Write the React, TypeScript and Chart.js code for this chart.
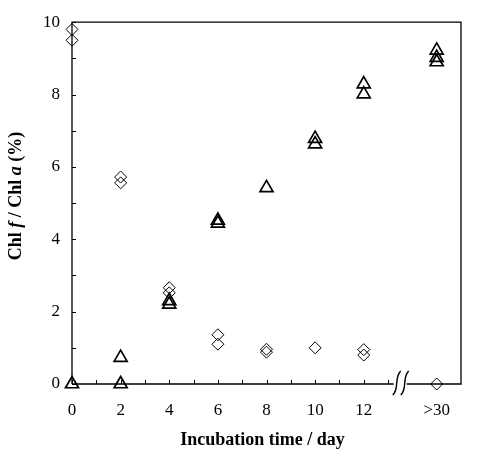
import React, { useEffect, useRef } from 'react';
import { Chart, registerables } from 'chart.js';
Chart.register(...registerables);

// Chl f / Chl a (%) versus incubation time (day); ">30" is drawn at position 15
const diamondTime = [0, 0, 2, 2, 4, 4, 6, 6, 8, 8, 10, 12, 12, 15];
const diamondRatio = [9.8, 9.5, 5.72, 5.56, 2.66, 2.52, 1.36, 1.1, 0.96, 0.88, 1.0, 0.95, 0.8, 0];
const triangleTime = [0, 2, 2, 4, 4, 6, 6, 8, 10, 10, 12, 12, 15, 15, 15];
const triangleRatio = [0, 0, 0.73, 2.3, 2.2, 4.52, 4.44, 5.42, 6.78, 6.63, 8.29, 8.01, 9.22, 9.02, 8.9];
const xMajorTicks = [0, 2, 4, 6, 8, 10, 12];
const xMinorTicks = [1, 3, 5, 7, 9, 11, 13];
const laterPos = 15;
const laterLabel = '>30';
const breakPos = 13.52;
const yTicks = [0, 1, 2, 3, 4, 5, 6, 7, 8, 9, 10];

const SERIF = "'Liberation Serif', 'Times New Roman', serif";

const framePlugin = {
  id: 'frame',
  beforeDatasetsDraw(chart: any) {
    const { ctx, chartArea, scales } = chart;
    const { left, right, top, bottom } = chartArea;
    const x = scales.x;
    const y = scales.y;
    ctx.save();
    ctx.strokeStyle = '#000';
    ctx.lineWidth = 1.3;
    const bx = x.getPixelForValue(breakPos);
    ctx.beginPath();
    ctx.moveTo(left, bottom);
    ctx.lineTo(left, top);
    ctx.lineTo(right, top);
    ctx.lineTo(right, bottom);
    ctx.lineTo(bx + 6, bottom);
    ctx.moveTo(left, bottom);
    ctx.lineTo(bx - 7, bottom);
    ctx.stroke();
    ctx.lineWidth = 1;
    ctx.beginPath();
    for (const v of yTicks) {
      const py = Math.round(y.getPixelForValue(v)) + 0.5;
      ctx.moveTo(left, py);
      ctx.lineTo(left + 4, py);
    }
    for (const v of [...xMajorTicks, ...xMinorTicks]) {
      const px = Math.round(x.getPixelForValue(v)) + 0.5;
      ctx.moveTo(px, bottom);
      ctx.lineTo(px, bottom - 4);
    }
    ctx.stroke();
    // axis break marks
    ctx.lineWidth = 1.4;
    for (const off of [-4, 4]) {
      const cx = bx + off;
      ctx.beginPath();
      ctx.moveTo(cx + 4, bottom - 13);
      ctx.bezierCurveTo(cx - 3, bottom - 6, cx + 3, bottom + 5, cx - 4, bottom + 11);
      ctx.stroke();
    }
    ctx.restore();
  },
  afterDraw(chart: any) {
    const { ctx, chartArea } = chart;
    ctx.save();
    ctx.fillStyle = '#000';
    ctx.font = `bold 18px ${SERIF}`;
    ctx.textAlign = 'center';
    ctx.textBaseline = 'alphabetic';
    ctx.fillText('Incubation time / day', (chartArea.left + chartArea.right) / 2 - 4, 445);

    const parts: [string, boolean][] = [
      ['Chl ', false],
      ['f', true],
      [' / Chl ', false],
      ['a', true],
      [' (%)', false],
    ];
    const fontFor = (it: boolean) => `${it ? 'italic ' : ''}bold 18px ${SERIF}`;
    let total = 0;
    for (const [t, it] of parts) {
      ctx.font = fontFor(it);
      total += ctx.measureText(t).width;
    }
    ctx.translate(21, 196);
    ctx.rotate(-Math.PI / 2);
    ctx.textAlign = 'left';
    let pos = -total / 2;
    for (const [t, it] of parts) {
      ctx.font = fontFor(it);
      ctx.fillText(t, pos, 0);
      pos += ctx.measureText(t).width;
    }
    ctx.restore();
  },
};

export default function App() {
  const ref = useRef<HTMLCanvasElement | null>(null);
  useEffect(() => {
    if (!ref.current) return;
    const chart = new Chart(ref.current, {
      type: 'scatter',
      data: {
        datasets: [
          {
            label: 'diamond',
            data: diamondTime.map((t, i) => ({ x: t, y: diamondRatio[i] })),
            pointStyle: 'rectRot',
            pointRadius: 6,
            borderColor: '#000',
            borderWidth: 1,
            backgroundColor: 'rgba(0,0,0,0)',
            clip: false,
          },
          {
            label: 'triangle',
            data: triangleTime.map((t, i) => ({ x: t, y: triangleRatio[i] })),
            pointStyle: 'triangle',
            pointRadius: 7.5,
            borderColor: '#000',
            borderWidth: 1.7,
            backgroundColor: 'rgba(0,0,0,0)',
            clip: false,
          },
        ],
      },
      options: {
        animation: false,
        responsive: false,
        events: [],
        layout: { padding: { left: 0, right: 24, top: 19, bottom: 0 } },
        plugins: { legend: { display: false }, tooltip: { enabled: false } },
        scales: {
          x: {
            type: 'linear',
            min: 0,
            max: 16,
            grid: { display: false, drawTicks: false },
            border: { display: false },
            afterBuildTicks: (s: any) => {
              s.ticks = [...xMajorTicks, ...xMinorTicks, laterPos]
                .sort((a, b) => a - b)
                .map((v) => ({ value: v }));
            },
            afterFit: (s: any) => {
              s.height = 79;
            },
            ticks: {
              autoSkip: false,
              maxRotation: 0,
              padding: 16,
              color: '#000',
              font: { family: SERIF, size: 17 },
              callback: (v: any) =>
                v === laterPos ? laterLabel : xMajorTicks.includes(v) ? String(v) : '',
            },
          },
          y: {
            min: 0,
            max: 10,
            grid: { display: false, drawTicks: false },
            border: { display: false },
            afterFit: (s: any) => {
              s.width = 72;
            },
            ticks: {
              stepSize: 1,
              padding: 12,
              color: '#000',
              font: { family: SERIF, size: 17 },
              callback: (v: any) => (v % 2 === 0 ? String(v) : ''),
            },
          },
        },
      },
      plugins: [framePlugin],
    });
    return () => chart.destroy();
  }, []);
  return (
    <div style={{ position: 'fixed', left: 0, top: 0, width: 485, height: 463, background: '#fff' }}>
      <canvas ref={ref} width={485} height={463} style={{ display: 'block' }} />
    </div>
  );
}
